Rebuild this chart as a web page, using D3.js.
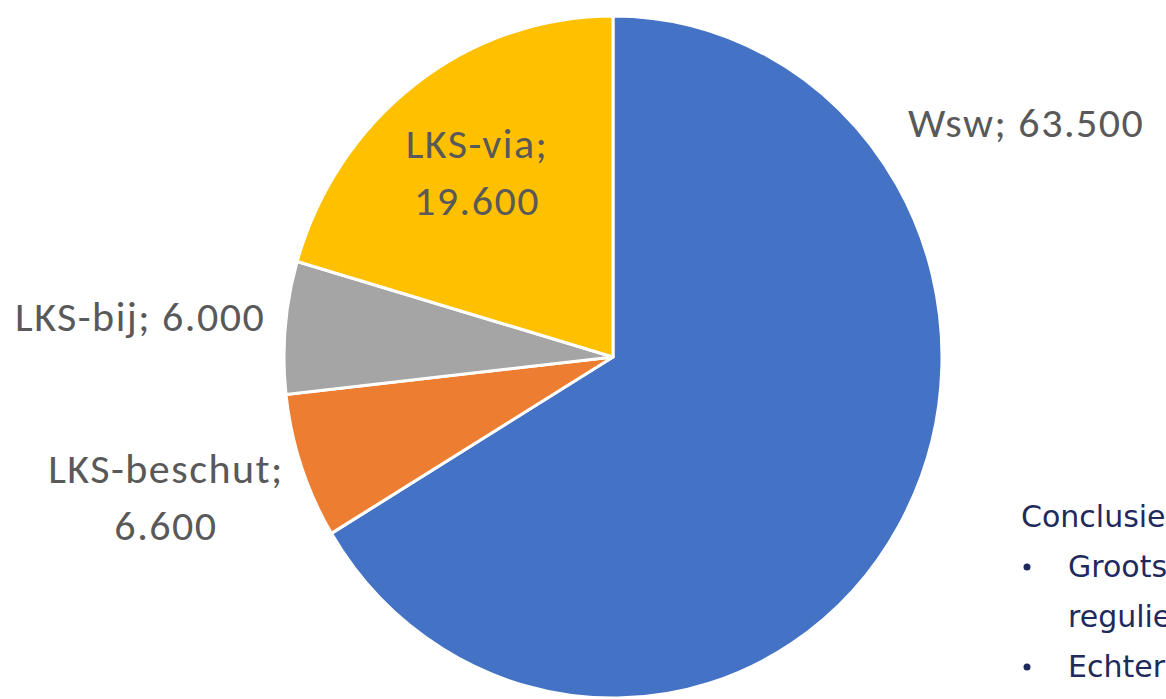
<!DOCTYPE html>
<html>
<head>
<meta charset="utf-8">
<script src="https://cdn.jsdelivr.net/npm/d3@7"></script>
<style>
  html, body { margin: 0; padding: 0; background: #fff; overflow: hidden; }
</style>
</head>
<body>
<div id="chart"></div>
<script>
// chart data
var categories = ["Wsw", "LKS-beschut", "LKS-bij", "LKS-via"];
var values = [63500, 6600, 6000, 19600];
var labelTexts = [["Wsw; 63.500"], ["LKS-beschut;", "6.600"], ["LKS-bij; 6.000"], ["LKS-via;", "19.600"]];
var colors = ["#4472C4", "#ED7D31", "#A5A5A5", "#FFC000"];
var noteLines = ["Conclusies", "Grootste", "reguliere", "Echter"];

var svgWidth = 1166;
var svgHeight = 699;

// pie geometry (slightly stretched vertically like the source picture)
var cx = 613, cy = 357;
var radius = 329;
var yStretch = 1.037;

// label anchors: x, y of first baseline, anchor
var labelPos = [
  {x: 908, y: 137, anchor: "start"},
  {x: 166, y: 483, anchor: "middle"},
  {x: 15, y: 331, anchor: "start"},
  {x: 477, y: 158, anchor: "middle"}
];

var svg = d3.select("#chart")
  .append("svg")
  .attr("width", svgWidth)
  .attr("height", svgHeight);

var data = categories.map(function(c, i) {
  return {name: c, value: values[i], color: colors[i], lines: labelTexts[i], pos: labelPos[i]};
});

var pie = d3.pie()
  .sort(null)
  .value(d => d.value);

var arc = d3.arc()
  .innerRadius(0)
  .outerRadius(radius);

var pieGroup = svg.append("g")
  .attr("transform", `translate(${cx}, ${cy}) scale(1, ${yStretch})`);

pieGroup.selectAll("path")
  .data(pie(data))
  .enter()
  .append("path")
  .attr("d", arc)
  .attr("fill", d => d.data.color)
  .attr("stroke", "#fff")
  .attr("stroke-width", 3)
  .attr("stroke-linejoin", "round");

// data labels
var lineHeight = 57;
svg.append("g")
  .selectAll("text")
  .data(data)
  .enter()
  .append("text")
  .attr("x", d => d.pos.x)
  .attr("y", d => d.pos.y)
  .attr("text-anchor", d => d.pos.anchor)
  .attr("font-family", "Carlito, Lato, 'Liberation Sans', sans-serif")
  .attr("font-size", "42px")
  .attr("letter-spacing", "1.5px")
  .attr("fill", "#595959")
  .each(function(d) {
    var t = d3.select(this);
    d.lines.forEach(function(line, i) {
      t.append("tspan")
        .attr("x", d.pos.x)
        .attr("dy", i === 0 ? 0 : lineHeight)
        .text(line);
    });
  });

// conclusion text at the right, cut by the page edge
var note = svg.append("g")
  .attr("font-family", "Verdana, 'DejaVu Sans', sans-serif")
  .attr("font-size", "30px")
  .attr("fill", "#1F2A5C");

note.append("text")
  .attr("x", 1021)
  .attr("y", 527)
  .text(noteLines[0]);

note.selectAll("text.line")
  .data(noteLines.slice(1))
  .enter()
  .append("text")
  .attr("class", "line")
  .attr("x", 1068)
  .attr("y", (d, i) => 577 + i * 50)
  .text(d => d);

note.selectAll("circle")
  .data([0, 2])
  .enter()
  .append("circle")
  .attr("cx", 1027)
  .attr("cy", d => 567 + d * 50)
  .attr("r", 3.5)
  .attr("fill", "#1F2A5C");
</script>
</body>
</html>
